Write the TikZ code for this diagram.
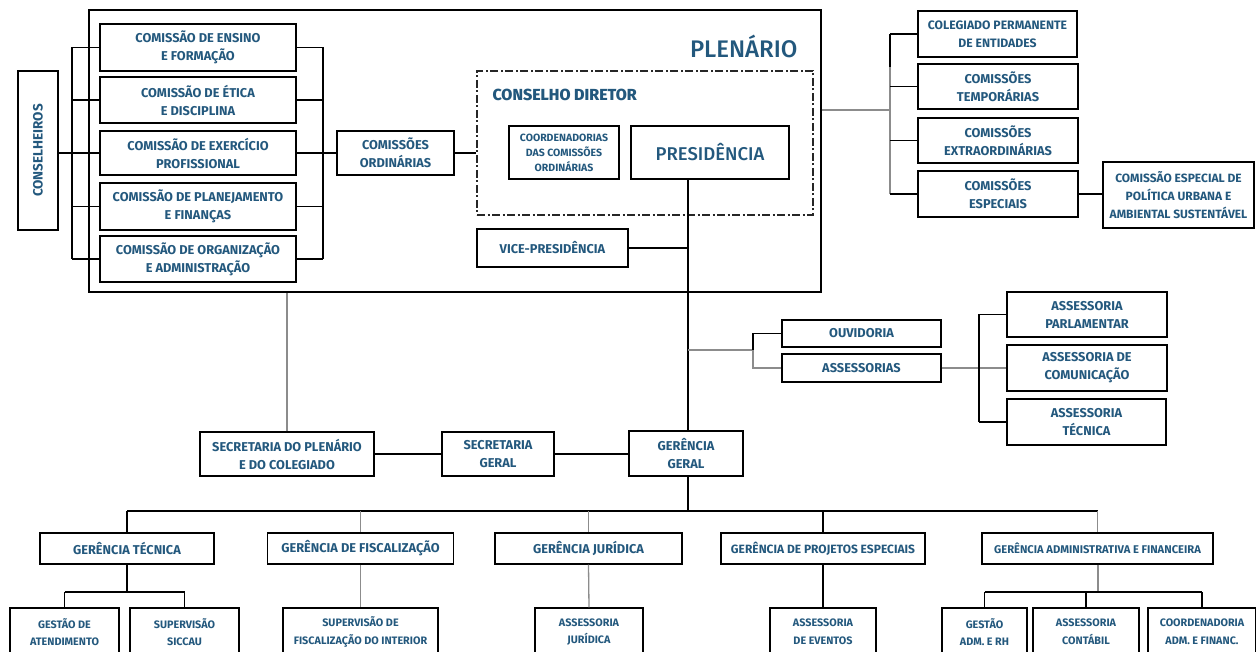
\documentclass[tikz,border=0pt]{standalone}
\usepackage{fontspec}
\setmainfont{Fira Sans}
\newfontfamily\firamed{Fira Sans Medium}
\newfontfamily\firaxbold{Fira Sans ExtraBold}
\definecolor{txtblue}{RGB}{35,88,125}
\definecolor{linegray}{RGB}{140,140,140}
\begin{document}
\begin{tikzpicture}[x=1pt,y=1pt,yscale=-1,
    orgbox/.style={draw=black,line width=1.1pt,inner sep=0pt,align=center,text=txtblue,
      font=\bfseries\fontsize{12.8}{18}\selectfont},
    gerbox/.style={orgbox,minimum height=31,font=\bfseries\fontsize{12.8}{14}\selectfont},
    subbox/.style={orgbox,minimum height=48,font=\bfseries\fontsize{10.8}{17.5}\selectfont},
    frame/.style={draw=black,line width=1.1pt,inner sep=0pt},
    blk/.style={draw=black,line width=1.1pt},
    gry/.style={draw=linegray,line width=1.3pt}]
  \useasboundingbox (0,0) rectangle (1256,652);

  \node[frame,minimum width=732,minimum height=282] (plen) at (455,151) {};
  \node[anchor=east,text=txtblue,font=\firamed\fontsize{24}{24}\selectfont] (plentit) at (801,46) {PLENÁRIO};
  \node[frame,draw=black!85,line width=1.1pt,dash pattern=on 8pt off 2.5pt on 2pt off 2.5pt,
        minimum width=336,minimum height=144] (cdir) at (645,143) {};
  \node[anchor=west,text=txtblue,font=\firaxbold\fontsize{16}{17}\selectfont] (cdirtit) at (489,95) {CONSELHO DIRETOR};

  \node[orgbox,minimum width=40,minimum height=159] (cons) at (38,150.5) {};
  \node[rotate=90,text=txtblue,font=\bfseries\fontsize{13.5}{13.5}\selectfont] (constxt) at (cons.center) {CONSELHEIROS};

  \node[orgbox,minimum width=196,minimum height=47] (ens) at (198,47.5) {COMISSÃO DE ENSINO\\E FORMAÇÃO};
  \node[orgbox,minimum width=196,minimum height=46] (etica) at (198,100) {COMISSÃO DE ÉTICA\\E DISCIPLINA};
  \node[orgbox,minimum width=196,minimum height=44] (exerc) at (198,153) {COMISSÃO DE EXERCÍCIO\\PROFISSIONAL};
  \node[orgbox,minimum width=196,minimum height=47] (plan) at (198,206.5) {COMISSÃO DE PLANEJAMENTO\\E FINANÇAS};
  \node[orgbox,minimum width=196,minimum height=46] (org) at (198,259) {COMISSÃO DE ORGANIZAÇÃO\\E ADMINISTRAÇÃO};
  \node[orgbox,minimum width=117,minimum height=44] (comord) at (395.5,153) {COMISSÕES\\ORDINÁRIAS};

  \node[orgbox,minimum width=110,minimum height=53,font=\bfseries\fontsize{10.5}{15}\selectfont] (coord) at (564,152.5) {COORDENADORIAS\\DAS COMISSÕES\\ORDINÁRIAS};
  \node[orgbox,minimum width=158,minimum height=53,font=\firamed\fontsize{18.5}{18.5}\selectfont] (pres) at (710,152.5) {PRESIDÊNCIA};
  \node[orgbox,minimum width=151,minimum height=38] (vice) at (552.5,248) {VICE-PRESIDÊNCIA};

  \node[orgbox,minimum width=159,minimum height=46,font=\bfseries\fontsize{12.2}{18}\selectfont] (coleg) at (997.5,34) {COLEGIADO PERMANENTE\\DE ENTIDADES};
  \node[orgbox,minimum width=160,minimum height=45] (temp) at (998,86.5) {COMISSÕES\\TEMPORÁRIAS};
  \node[orgbox,minimum width=160,minimum height=45] (extra) at (998,140.5) {COMISSÕES\\EXTRAORDINÁRIAS};
  \node[orgbox,minimum width=160,minimum height=46] (espec) at (998,194) {COMISSÕES\\ESPECIAIS};
  \node[orgbox,minimum width=151,minimum height=66,font=\bfseries\fontsize{12}{18}\selectfont] (polit) at (1178.5,195) {COMISSÃO ESPECIAL DE\\POLÍTICA URBANA E\\AMBIENTAL SUSTENTÁVEL};

  \node[orgbox,minimum width=159,minimum height=27] (ouv) at (861.5,333.5) {OUVIDORIA};
  \node[orgbox,minimum width=159,minimum height=28] (asses) at (861.5,368) {ASSESSORIAS};
  \node[orgbox,minimum width=160,minimum height=45] (parl) at (1087,314.5) {ASSESSORIA\\PARLAMENTAR};
  \node[orgbox,minimum width=160,minimum height=46] (comun) at (1087,368) {ASSESSORIA DE\\COMUNICAÇÃO};
  \node[orgbox,minimum width=159,minimum height=46] (asstec) at (1086.5,422) {ASSESSORIA\\TÉCNICA};

  \node[orgbox,minimum width=174,minimum height=44] (secpl) at (287,454) {SECRETARIA DO PLENÁRIO\\E DO COLEGIADO};
  \node[orgbox,minimum width=112,minimum height=44] (secger) at (498,454) {SECRETARIA\\GERAL};
  \node[orgbox,minimum width=114,minimum height=45] (gerger) at (686,453.5) {GERÊNCIA\\GERAL};

  \node[gerbox,minimum width=174] (gtec) at (127,548.5) {GERÊNCIA TÉCNICA};
  \node[gerbox,minimum width=186] (gfis) at (360.5,548.5) {GERÊNCIA DE FISCALIZAÇÃO};
  \node[gerbox,minimum width=187] (gjur) at (588.5,548.5) {GERÊNCIA JURÍDICA};
  \node[gerbox,minimum width=204,font=\bfseries\fontsize{12}{14}\selectfont] (gproj) at (823,548.5) {GERÊNCIA DE PROJETOS ESPECIAIS};
  \node[gerbox,minimum width=231,font=\bfseries\fontsize{11.2}{12}\selectfont] (gadm) at (1097.5,548.5) {GERÊNCIA ADMINISTRATIVA E FINANCEIRA};

  \node[subbox,minimum width=109] (atend) at (64.5,632) {GESTÃO DE\\ATENDIMENTO};
  \node[subbox,minimum width=109] (siccau) at (184.5,632) {SUPERVISÃO\\SICCAU};
  \node[subbox,minimum width=155] (supfis) at (360.5,632) {SUPERVISÃO DE\\FISCALIZAÇÃO DO INTERIOR};
  \node[subbox,minimum width=108] (assjur) at (589,632) {ASSESSORIA\\JURÍDICA};
  \node[subbox,minimum width=106] (evento) at (823,632) {ASSESSORIA\\DE EVENTOS};
  \node[subbox,minimum width=85] (gestrh) at (984.5,632) {GESTÃO\\ADM. E RH};
  \node[subbox,minimum width=106] (contab) at (1086,632) {ASSESSORIA\\CONTÁBIL};
  \node[subbox,minimum width=108] (coordaf) at (1202,632) {COORDENADORIA\\ADM. E FINANC.};

  \coordinate (lb) at (72,0);
  \coordinate (rb) at (323,0);
  \draw[blk] (cons.east |- exerc) -- (exerc.west);
  \draw[blk] (lb |- ens) -- (lb |- org);
  \draw[blk] (rb |- ens) -- (rb |- org);
  \foreach \n in {ens,etica,exerc,plan,org}
    {\draw[blk] (lb |- \n) -- (\n.west);
     \draw[blk] (\n.east) -- (rb |- \n);}
  \draw[blk] (rb |- comord) -- (comord.west);
  \draw[blk] (comord.east) -- (comord.east -| cdir.west);

  \coordinate (mv) at (688,0);
  \draw[blk] (mv |- pres.south) -- (mv |- gerger.north);
  \draw[blk] (vice.east) -- (mv |- vice);
  \draw[gry] (secpl.north) -- (secpl.north |- plen.south);
  \draw[blk] (secpl.east) -- (secger.west);
  \draw[blk] (secger.east) -- (secger.east -| gerger.west);

  \coordinate (rbus) at (890,110);
  \draw[gry] (plen.east |- rbus) -- (rbus);
  \draw[gry] (rbus |- coleg) -- (rbus |- espec);
  \draw[blk] (rbus |- coleg) -- (890,67);
  \foreach \n in {coleg,temp,extra,espec}
    \draw[blk] (rbus |- \n) -- (\n.west);
  \draw[blk] (espec.east) -- (espec.east -| polit.west);

  \coordinate (ob) at (753,350);
  \draw[gry] (mv |- ob) -- (ob) -- (ob |- asses) -- (asses.west);
  \draw[blk] (ob) -- (ob |- ouv) -- (ouv.west);
  \coordinate (ab) at (979,368);
  \draw[gry] (asses.east) -- (comun.west);
  \draw[blk] (ab |- parl) -- (ab |- asstec);
  \draw[blk] (ab |- parl) -- (parl.west);
  \draw[blk] (ab |- asstec) -- (asstec.west);

  \coordinate (gb) at (688,511);
  \draw[blk] (mv |- gerger.south) -- (gb);
  \draw[blk] (gb -| gtec) -- (gb -| gadm);
  \draw[blk] (gb -| gtec) -- (gtec.north);
  \draw[gry] (gb -| gfis) -- (gfis.north);
  \draw[gry] (gb -| gjur) -- (gjur.north);
  \draw[blk] (gb -| gproj) -- (gproj.north);
  \draw[gry] (gb -| gadm) -- (gadm.north);

  \coordinate (tb) at (127,592);
  \draw[blk] (gtec.south) -- (tb);
  \draw[blk] (atend.north |- tb) -- (siccau.north |- tb);
  \draw[blk] (atend.north |- tb) -- (atend.north);
  \draw[blk] (siccau.north |- tb) -- (siccau.north);
  \draw[gry] (gfis.south) -- (supfis.north);
  \draw[gry] (gjur.south) -- (assjur.north);
  \draw[blk] (gproj.south) -- (evento.north);
  \coordinate (fb) at (1098,592);
  \draw[gry] (fb |- gadm.south) -- (fb);
  \draw[blk] (gestrh.north |- fb) -- (coordaf.north |- fb);
  \foreach \n in {gestrh,contab,coordaf}
    \draw[blk] (\n.north |- fb) -- (\n.north);
\end{tikzpicture}
\end{document}
